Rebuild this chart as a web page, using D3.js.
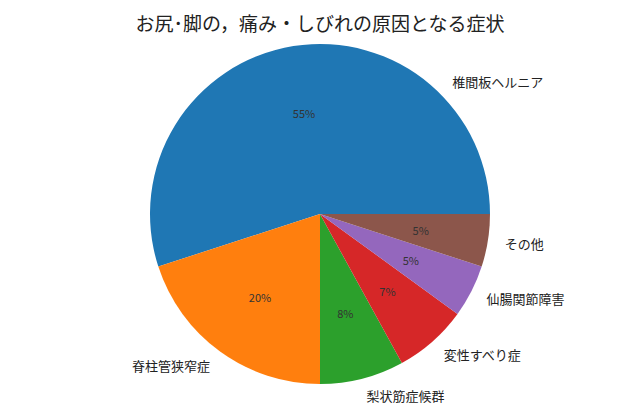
<!DOCTYPE html>
<html><head><meta charset="utf-8">
<script src="https://cdn.jsdelivr.net/npm/d3@7"></script>
<style>body{margin:0;background:#fff}text{font-family:"Noto Sans CJK JP","Noto Sans",sans-serif}</style>
</head><body><svg id="c" width="640" height="410"></svg>
<script>
const labels = ["椎間板ヘルニア", "脊柱管狭窄症", "梨状筋症候群", "変性すべり症", "仙腸関節障害", "その他"];
const values = [55, 20, 8, 7, 5, 5];
const colors = ["#1f77b4", "#ff7f0e", "#2ca02c", "#d62728", "#9467bd", "#8c564b"];
// first label was placed by hand at 45deg in the original
const labelAngleOverride = [45, null, null, null, null, null];

const svg = d3.select("#c");
const cx = 320, cy = 214, r = 170;
const g = svg.append("g").attr("transform", `translate(${cx},${cy})`);

// matplotlib style: start at 3 o'clock, go counterclockwise
const pie = d3.pie().sort(null).startAngle(0).endAngle(2 * Math.PI);
const arcs = pie(values).map(d => ({
  ...d,
  startAngle: Math.PI / 2 - d.startAngle,
  endAngle: Math.PI / 2 - d.endAngle
}));
const arc = d3.arc().innerRadius(0).outerRadius(r);

g.selectAll("path").data(arcs).join("path")
  .attr("d", arc).attr("fill", (d, i) => colors[i]);

const pos = (a, k) => [k * r * Math.sin(a), -k * r * Math.cos(a)];
const mid = d => (d.startAngle + d.endAngle) / 2;

g.selectAll(".pct").data(arcs).join("text")
  .attr("class", "pct")
  .attr("transform", d => `translate(${pos(mid(d), 0.6)})`)
  .attr("text-anchor", "middle").attr("dominant-baseline", "central")
  .attr("font-size", 11).attr("fill", "#333")
  .text((d, i) => values[i] + "%");

g.selectAll(".lbl").data(arcs).join("text")
  .attr("class", "lbl")
  .each(function(d, i) {
    const a = labelAngleOverride[i] != null ? Math.PI / 2 - labelAngleOverride[i] * Math.PI / 180 : mid(d);
    const p = pos(a, 1.1);
    d3.select(this).attr("x", p[0]).attr("y", p[1])
      .attr("text-anchor", p[0] >= 0 ? "start" : "end");
  })
  .attr("dominant-baseline", "central")
  .attr("font-size", 13).attr("fill", "#222")
  .text((d, i) => labels[i]);

svg.append("text").attr("x", 320).attr("y", 22)
  .attr("text-anchor", "middle").attr("dominant-baseline", "central")
  .attr("font-size", 19).attr("fill", "#222")
  .text("お尻･脚の，痛み・しびれの原因となる症状");
</script></body></html>
